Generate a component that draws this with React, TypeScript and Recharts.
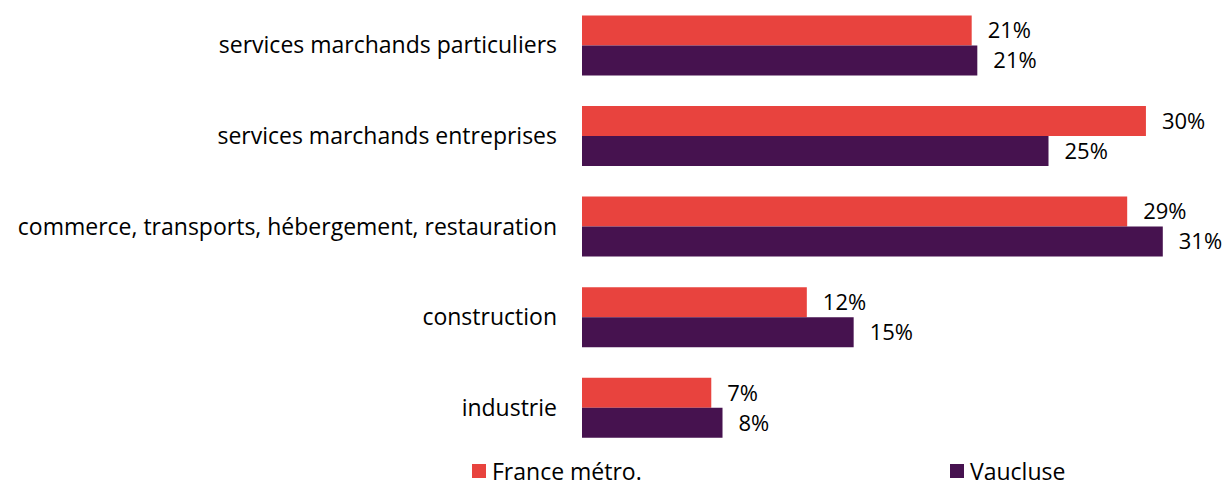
import { BarChart, Bar, XAxis, YAxis, LabelList, Legend } from "recharts";

const categories = [
  "services marchands particuliers",
  "services marchands entreprises",
  "commerce, transports, hébergement, restauration",
  "construction",
  "industrie",
];
const franceMetro = [20.8, 30.1, 29.1, 12.0, 6.9];
const vaucluse = [21.1, 24.9, 31.0, 14.5, 7.5];

const data = categories.map((name, i) => ({
  name,
  france: franceMetro[i],
  vaucluse: vaucluse[i],
}));

const FONT = "'Open Sans', 'DejaVu Sans', sans-serif";
const pct = (v: any) => `${Math.round(Number(v))}%`;

function LegendContent({ payload }: any) {
  return (
    <div
      style={{
        display: "flex",
        fontFamily: FONT,
        fontSize: 23,
        lineHeight: "24px",
        color: "#000",
        paddingLeft: 472,
        paddingTop: 6,
        height: 31,
        boxSizing: "border-box",
      }}
    >
      {(payload || []).map((p: any) => (
        <div key={p.value} style={{ width: 478, height: 24, flexShrink: 0, display: "flex", alignItems: "center" }}>
          <span style={{ width: 14, height: 14, background: p.color, marginRight: 6, display: "inline-block" }} />
          <span style={{ display: "inline-block", height: 24, lineHeight: "24px" }}>{p.value}</span>
        </div>
      ))}
    </div>
  );
}

export default function App() {
  return (
    <div style={{ position: "absolute", left: 0, top: 0, background: "#fff", width: 1226, height: 485 }}>
      <BarChart
        width={1226}
        height={485}
        data={data}
        layout="vertical"
        margin={{ top: 0, right: 7, bottom: 1, left: 0 }}
        barCategoryGap="17%"
        barGap={0}
      >
        <XAxis type="number" domain={[0, 34]} hide />
        <YAxis
          type="category"
          dataKey="name"
          width={582}
          axisLine={false}
          tickLine={false}
          tickSize={0}
          tickMargin={25}
          tick={{ fontSize: 23, fill: "#000", fontFamily: FONT }}
          interval={0}
        />
        <Legend
          verticalAlign="bottom"
          align="left"
          content={<LegendContent />}
          wrapperStyle={{ left: 0, bottom: 1, width: 1226 }}
        />
        <Bar dataKey="france" name="France métro." fill="#E8433E" isAnimationActive={false}>
          <LabelList dataKey="france" position="right" offset={16} formatter={pct} style={{ fontSize: 22, fill: "#000", fontFamily: FONT }} />
        </Bar>
        <Bar dataKey="vaucluse" name="Vaucluse" fill="#46124F" isAnimationActive={false}>
          <LabelList dataKey="vaucluse" position="right" offset={16} formatter={pct} style={{ fontSize: 22, fill: "#000", fontFamily: FONT }} />
        </Bar>
      </BarChart>
    </div>
  );
}
